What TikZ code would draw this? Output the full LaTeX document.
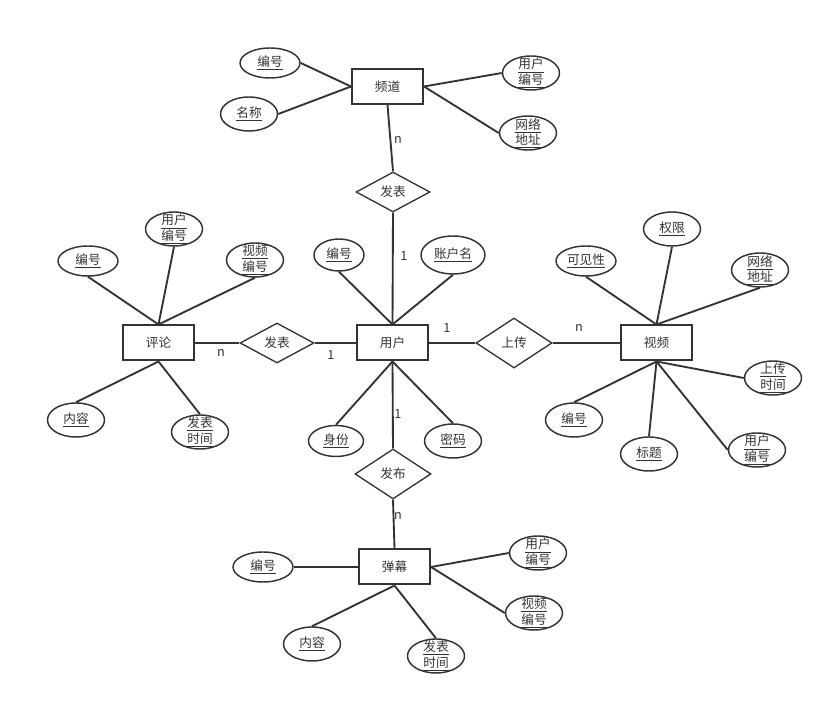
\documentclass[tikz,border=0pt]{standalone}
\usepackage{fontspec}
\setmainfont{Noto Sans CJK SC}
\usetikzlibrary{shapes.geometric}
\definecolor{ln}{HTML}{333333}
\tikzset{
 ent/.style={draw=ln, line width=1.5pt, rectangle, minimum width=53.25pt, minimum height=26.25pt, inner sep=0pt, font=\fontsize{9.5}{11.5}\selectfont, text=ln},
 rel/.style 2 args={draw=ln, line width=1pt, diamond, minimum width=#1, minimum height=#2, inner sep=0pt, font=\fontsize{9.5}{11.5}\selectfont, text=ln},
 attr/.style 2 args={draw=ln, line width=1.1pt, ellipse, minimum width=#1, minimum height=#2, inner xsep=0pt, inner ysep=-2.5pt, align=center, font=\fontsize{9.5}{11.5}\selectfont, text=ln},
 conn/.style={draw=ln, line width=1.4pt},
 card/.style={font=\fontsize{9.5}{11}\selectfont, text=ln, inner sep=0pt}
}
\newcommand{\ux}[1]{\underline{#1}}
\begin{document}
\begin{tikzpicture}[x=0.75pt,y=-0.75pt]
\useasboundingbox (0,0) rectangle (833,705);
% entities
\node[ent] (ch) at (387.5,86.5) {频道};
\node[ent] (cm) at (158.5,343) {评论};
\node[ent] (us) at (392.5,343) {用户};
\node[ent] (vd) at (656.5,343) {视频};
\node[ent] (dm) at (394.5,567) {弹幕};
% relationships
\node[rel={55.5pt}{30pt}] (fb1) at (393,192) {发表};
\node[rel={55.5pt}{30pt}] (fb2) at (277,343) {发表};
\node[rel={57pt}{37.5pt}] (sc) at (514,343) {上传};
\node[rel={57pt}{37.5pt}] (fbu) at (393,474) {发布};
% attributes of 频道
\node[attr={45pt}{22.5pt}] (ch1) at (270,63) {\ux{编号}};
\node[attr={42.75pt}{25.5pt}] (ch2) at (249,114) {\ux{名称}};
\node[attr={42.75pt}{25.5pt}] (ch3) at (531,73) {\ux{用户}\\\ux{编号}};
\node[attr={42.75pt}{25.5pt}] (ch4) at (528,133) {\ux{网络}\\\ux{地址}};
% attributes of 评论
\node[attr={45pt}{22.5pt}] (cm1) at (88,261) {\ux{编号}};
\node[attr={42.75pt}{25.5pt}] (cm2) at (174,229) {\ux{用户}\\\ux{编号}};
\node[attr={42.75pt}{25.5pt}] (cm3) at (255,260) {\ux{视频}\\\ux{编号}};
\node[attr={42.75pt}{25.5pt}] (cm4) at (76,420) {\ux{内容}};
\node[attr={42.75pt}{25.5pt}] (cm5) at (200,432) {\ux{发表}\\\ux{时间}};
% attributes of 用户
\node[attr={37.5pt}{24pt}] (us1) at (339,255) {\ux{编号}};
\node[attr={48pt}{28.5pt}] (us2) at (453,255) {\ux{账户名}};
\node[attr={41.25pt}{23.25pt}] (us3) at (336,441) {\ux{身份}};
\node[attr={42.75pt}{25.5pt}] (us4) at (453,441) {\ux{密码}};
% attributes of 视频
\node[attr={45pt}{22.5pt}] (vd1) at (586,261) {\ux{可见性}};
\node[attr={42.75pt}{25.5pt}] (vd2) at (672,229) {\ux{权限}};
\node[attr={42.75pt}{25.5pt}] (vd3) at (760,270) {\ux{网络}\\\ux{地址}};
\node[attr={42.75pt}{25.5pt}] (vd4) at (773,378) {\ux{上传}\\\ux{时间}};
\node[attr={42.75pt}{25.5pt}] (vd5) at (574,420) {\ux{编号}};
\node[attr={42.75pt}{25.5pt}] (vd6) at (649,454) {\ux{标题}};
\node[attr={42.75pt}{25.5pt}] (vd7) at (757,450) {\ux{用户}\\\ux{编号}};
% attributes of 弹幕
\node[attr={45pt}{22.5pt}] (dm1) at (263,567) {\ux{编号}};
\node[attr={42.75pt}{25.5pt}] (dm2) at (538,553) {\ux{用户}\\\ux{编号}};
\node[attr={42.75pt}{25.5pt}] (dm3) at (534,613) {\ux{视频}\\\ux{编号}};
\node[attr={42.75pt}{25.5pt}] (dm4) at (312,644) {\ux{内容}};
\node[attr={42.75pt}{25.5pt}] (dm5) at (436,656) {\ux{发表}\\\ux{时间}};
% connectors: 频道
\draw[conn] (ch1.east) -- (ch.west);
\draw[conn] (ch2.east) -- (ch.west);
\draw[conn] (ch3.west) -- (ch.east);
\draw[conn] (ch4.west) -- (ch.east);
\draw[conn] (ch.south) -- (fb1.north);
\draw[conn] (fb1.south) -- (us.north);
% 评论
\draw[conn] (cm1.south) -- (cm.north);
\draw[conn] (cm2.south) -- (cm.north);
\draw[conn] (cm3.south) -- (cm.north);
\draw[conn] (cm4.north) -- (cm.south);
\draw[conn] (cm5.north) -- (cm.south);
\draw[conn] (cm.east) -- (fb2.west);
\draw[conn] (fb2.east) -- (us.west);
% 用户
\draw[conn] (us1.south) -- (us.north);
\draw[conn] (us2.south) -- (us.north);
\draw[conn] (us3.north) -- (us.south);
\draw[conn] (us4.north) -- (us.south);
\draw[conn] (us.south) -- (fbu.north);
\draw[conn] (us.east) -- (sc.west);
\draw[conn] (sc.east) -- (vd.west);
% 视频
\draw[conn] (vd1.south) -- (vd.north);
\draw[conn] (vd2.south) -- (vd.north);
\draw[conn] (vd3.south) -- (vd.north);
\draw[conn] (vd4.west) -- (vd.south);
\draw[conn] (vd5.north) -- (vd.south);
\draw[conn] (vd6.north) -- (vd.south);
\draw[conn] (vd7.west) -- (vd.south);
% 弹幕
\draw[conn] (fbu.south) -- (dm.north);
\draw[conn] (dm1.east) -- (dm.west);
\draw[conn] (dm2.west) -- (dm.east);
\draw[conn] (dm3.west) -- (dm.east);
\draw[conn] (dm4.north) -- (dm.south);
\draw[conn] (dm5.north) -- (dm.south);
% cardinalities
\node[card] (k1) at (398,140) {n};
\node[card] (k2) at (404,256) {1};
\node[card] (k3) at (221,353) {n};
\node[card] (k4) at (331,355) {1};
\node[card] (k5) at (447,328) {1};
\node[card] (k6) at (579,328) {n};
\node[card] (k7) at (398,414) {1};
\node[card] (k8) at (398,516) {n};
\end{tikzpicture}
\end{document}
